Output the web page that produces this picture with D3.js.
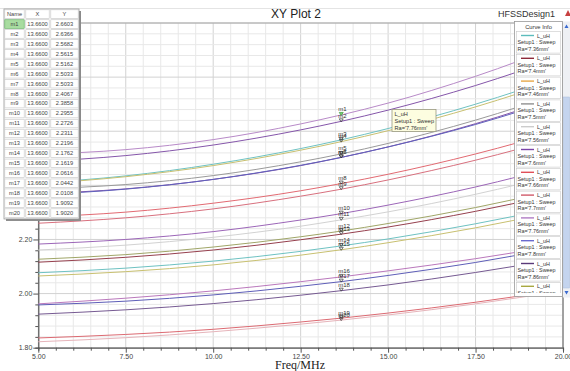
<!DOCTYPE html>
<html>
<head>
<meta charset="utf-8">
<script src="https://cdn.jsdelivr.net/npm/d3@7"></script>
<style>
body { margin: 0; background: #fff; }
svg { display: block; font-family: "Liberation Sans", Arial, sans-serif; }
</style>
</head>
<body>
<div></div>
<script>
var width = 570;
var height = 371;

// frequencies (MHz) at which the curves were read; 13.66 is the marker column
var freqs = [5, 7.5, 10, 12.5, 13.66, 15, 17.5, 20];

// L_uH, one row per marker curve m1..m20
var curveL = [
    [2.515, 2.532, 2.569, 2.627, 2.6603, 2.704, 2.803, 2.921],
    [2.488, 2.510, 2.549, 2.605, 2.6366, 2.678, 2.769, 2.877],
    [2.409, 2.435, 2.478, 2.536, 2.5682, 2.610, 2.700, 2.805],
    [2.406, 2.432, 2.473, 2.530, 2.5615, 2.602, 2.690, 2.794],
    [2.387, 2.403, 2.436, 2.487, 2.5162, 2.555, 2.641, 2.744],
    [2.369, 2.387, 2.422, 2.473, 2.5033, 2.542, 2.628, 2.731],
    [2.366, 2.386, 2.422, 2.474, 2.5033, 2.542, 2.625, 2.725],
    [2.283, 2.301, 2.334, 2.380, 2.4067, 2.441, 2.516, 2.605],
    [2.260, 2.280, 2.313, 2.360, 2.3858, 2.420, 2.493, 2.579],
    [2.183, 2.200, 2.229, 2.272, 2.2955, 2.327, 2.394, 2.475],
    [2.161, 2.179, 2.208, 2.249, 2.2726, 2.302, 2.367, 2.444],
    [2.127, 2.144, 2.172, 2.210, 2.2311, 2.259, 2.318, 2.388],
    [2.116, 2.134, 2.161, 2.199, 2.2196, 2.246, 2.304, 2.372],
    [2.077, 2.094, 2.120, 2.156, 2.1762, 2.202, 2.258, 2.323],
    [2.065, 2.081, 2.106, 2.142, 2.1619, 2.188, 2.243, 2.308],
    [1.962, 1.983, 2.010, 2.044, 2.0616, 2.084, 2.129, 2.181],
    [1.958, 1.972, 1.995, 2.027, 2.0442, 2.067, 2.115, 2.173],
    [1.924, 1.940, 1.963, 1.994, 2.0108, 2.032, 2.078, 2.131],
    [1.836, 1.849, 1.868, 1.895, 1.9092, 1.928, 1.968, 2.015],
    [1.822, 1.837, 1.859, 1.887, 1.9020, 1.921, 1.962, 2.010]
];
var curveColors = ["#b88ac8", "#8556aa", "#6ec2c2", "#c8c070", "#9a9a9a", "#8556aa", "#6060bc",
    "#e26a72", "#d8707e", "#9c66b8", "#d2d2d2", "#a0a668", "#96404e", "#6ec2c2", "#c8c070",
    "#ba78bc", "#5e5eb8", "#765a92", "#dc6a72", "#e6b4ba"];

var markerNames = ["m1", "m2", "m3", "m4", "m5", "m6", "m7", "m8", "m9", "m10",
    "m11", "m12", "m13", "m14", "m15", "m16", "m17", "m18", "m19", "m20"];
var markerX = 13.66;
var markerY = [2.6603, 2.6366, 2.5682, 2.5615, 2.5162, 2.5033, 2.5033, 2.4067, 2.3858, 2.2955,
    2.2726, 2.2311, 2.2196, 2.1762, 2.1619, 2.0616, 2.0442, 2.0108, 1.9092, 1.9020];

var raLabels = ["7.36mm", "7.4mm", "7.46mm", "7.5mm", "7.56mm", "7.6mm",
    "7.66mm", "7.7mm", "7.76mm", "7.8mm", "7.86mm", "7.9mm"];
var legendColors = ["#5cbcbc", "#8e2a3a", "#e8a848", "#909090", "#cccccc", "#7b45a8",
    "#e0505a", "#d05a6a", "#b07cc4", "#6a6ad0", "#5a3a7a", "#a8a840"];

var xTicks = [5, 7.5, 10, 12.5, 15, 17.5, 20];
var yTicks = [1.8, 2.0, 2.2, 2.4, 2.6, 2.8, 3.0];

var svg = d3.select("div")
    .append("svg")
    .attr("width", width)
    .attr("height", height);

var x = d3.scaleLinear().domain([5, 20]).range([38.3, 563]);
var y = d3.scaleLinear().domain([1.8, 3.0]).range([347.7, 23]);

// window frame lines
svg.append("line").attr("x1", 0).attr("x2", width).attr("y1", 8.5).attr("y2", 8.5)
    .attr("stroke", "#e4e4e4");

// grid
var grid = svg.append("g");
grid.selectAll(".gx").data(d3.range(5, 20.01, 0.5)).enter().append("line")
    .attr("x1", d => x(d)).attr("x2", d => x(d))
    .attr("y1", y(3.0)).attr("y2", y(1.8))
    .attr("stroke", d => Math.abs(d / 2.5 - Math.round(d / 2.5)) < 1e-6 ? "#d2d2d2" : "#e8e8e8")
    .attr("stroke-width", 1);
grid.selectAll(".gy").data(d3.range(1.8, 3.001, 0.04)).enter().append("line")
    .attr("x1", x(5)).attr("x2", x(20))
    .attr("y1", d => y(d)).attr("y2", d => y(d))
    .attr("stroke", d => Math.abs(d / 0.2 - Math.round(d / 0.2)) < 1e-6 ? "#d2d2d2" : "#e8e8e8")
    .attr("stroke-width", 1);

// frame
svg.append("line").attr("x1", x(5)).attr("x2", x(20)).attr("y1", y(3)).attr("y2", y(3))
    .attr("stroke", "#a8a8a8");
svg.append("line").attr("x1", x(20)).attr("x2", x(20)).attr("y1", y(3)).attr("y2", y(1.8))
    .attr("stroke", "#8a8a8a").attr("stroke-width", 1.5);

// axes
var xAxis = d3.axisBottom(x).tickValues(d3.range(5, 20.01, 0.5)).tickSize(3)
    .tickFormat(d => xTicks.indexOf(d) >= 0 ? d.toFixed(2) : "");
var gx = svg.append("g").attr("transform", "translate(0," + y(1.8) + ")").call(xAxis);
gx.selectAll(".tick line").attr("y2", d => xTicks.indexOf(d) >= 0 ? 5 : 3).attr("stroke", "#555");
var yAxis = d3.axisLeft(y).tickValues(d3.range(1.8, 3.001, 0.04)).tickSize(3)
    .tickFormat(d => yTicks.some(t => Math.abs(t - d) < 1e-6) ? d.toFixed(2) : "");
var gy = svg.append("g").attr("transform", "translate(" + x(5) + ",0)").call(yAxis);
gy.selectAll(".tick line").attr("x2", d => yTicks.some(t => Math.abs(t - d) < 1e-6) ? -5 : -3)
    .attr("stroke", "#555");
[gx, gy].forEach(function (g) {
    g.select(".domain").attr("stroke", "#555").attr("stroke-width", 1.2);
    g.selectAll("text").attr("font-size", 7).attr("fill", "#444")
        .attr("font-family", "Liberation Sans, Arial, sans-serif");
});
gx.selectAll("text").attr("dy", "0.75em");

// curves
var line = d3.line()
    .x((d, i) => x(freqs[i]))
    .y(d => y(d))
    .curve(d3.curveMonotoneX);
svg.append("g").selectAll("path").data(curveL).enter().append("path")
    .attr("d", line)
    .attr("fill", "none")
    .attr("stroke", (d, i) => curveColors[i])
    .attr("stroke-width", 1);

// markers
var mk = svg.append("g");
markerY.forEach(function (v, i) {
    var px = x(markerX), py = y(v);
    mk.append("path")
        .attr("d", "M" + (px - 2) + "," + (py - 2.5) + "L" + (px + 2) + "," + (py - 2.5) + "L" + px + "," + (py + 0.5) + "Z")
        .attr("fill", i === 0 ? "#7bd07b" : "none")
        .attr("stroke", i === 0 ? "#3a9a3a" : "#333")
        .attr("stroke-width", 0.7);
    mk.append("text").text(markerNames[i])
        .attr("x", px - 3).attr("y", py - 3.5)
        .attr("font-size", 6).attr("fill", "#333");
});

// tooltip box
var tip = svg.append("g").attr("transform", "translate(392,109.5)");
tip.append("rect").attr("width", 44).attr("height", 22)
    .attr("fill", "#fdfde0").attr("stroke", "#9a9a80").attr("stroke-width", 0.8);
["L_uH", "Setup1 : Sweep", "Ra='7.76mm'"].forEach(function (t, i) {
    tip.append("text").text(t).attr("x", 2.5).attr("y", 6.5 + i * 7)
        .attr("font-size", 5.6).attr("fill", "#333");
});

// marker table
var tbl = svg.append("g").attr("transform", "translate(4,9)");
var colX = [0, 21, 46, 75];
var rowH = 9.95;
tbl.append("rect").attr("x", 2).attr("y", 2).attr("width", 75).attr("height", rowH * 21 + 1)
    .attr("fill", "#8a8a8a");
tbl.append("rect").attr("x", 0).attr("y", 0).attr("width", 75).attr("height", rowH * 21 + 1)
    .attr("fill", "#fff").attr("stroke", "#9a9a9a").attr("stroke-width", 0.8);
var header = ["Name", "X", "Y"];
for (var r = 0; r < 21; r++) {
    for (var c = 0; c < 3; c++) {
        var cx0 = colX[c] + 0.8, cy0 = r * rowH + 0.8;
        var isSel = (r === 1 && c === 0);
        tbl.append("rect").attr("x", cx0).attr("y", cy0)
            .attr("width", colX[c + 1] - colX[c] - 1.6).attr("height", rowH - 1.4)
            .attr("fill", isSel ? "#a8dca0" : "#fff")
            .attr("stroke", isSel ? "#58a858" : "#c4c4c4").attr("stroke-width", 0.6);
        var t = r === 0 ? header[c] : (c === 0 ? markerNames[r - 1] : c === 1 ? markerX.toFixed(4) : markerY[r - 1].toFixed(4));
        tbl.append("text").text(t)
            .attr("x", (colX[c] + colX[c + 1]) / 2).attr("y", r * rowH + 6.9)
            .attr("text-anchor", "middle").attr("font-size", 5.7).attr("fill", "#444");
    }
}

// legend panel
var lg = svg.append("g");
lg.append("rect").attr("x", 514.5).attr("y", 21.5).attr("width", 48).attr("height", 275)
    .attr("fill", "#fff").attr("stroke", "#9a9a9a").attr("stroke-width", 0.8);
lg.append("text").text("Curve Info").attr("x", 538.5).attr("y", 29)
    .attr("text-anchor", "middle").attr("font-size", 5.8).attr("fill", "#333");
svg.append("clipPath").attr("id", "lgclip").append("rect")
    .attr("x", 514).attr("y", 31).attr("width", 49).attr("height", 262);
var le = lg.append("g").attr("clip-path", "url(#lgclip)");
raLabels.forEach(function (ra, i) {
    var top = 31.5 + i * 22.8;
    le.append("rect").attr("x", 516.5).attr("y", top).attr("width", 44).attr("height", 21.6)
        .attr("fill", "#fff").attr("stroke", "#c8c8c8").attr("stroke-width", 0.6);
    le.append("line").attr("x1", 521).attr("x2", 534).attr("y1", top + 4).attr("y2", top + 4)
        .attr("stroke", legendColors[i]).attr("stroke-width", 1.4);
    le.append("text").text("L_uH").attr("x", 537).attr("y", top + 6)
        .attr("font-size", 5.4).attr("fill", "#333");
    le.append("text").text("Setup1 : Sweep").attr("x", 517.5).attr("y", top + 12.5)
        .attr("font-size", 5.4).attr("fill", "#333");
    le.append("text").text("Ra='" + ra + "'").attr("x", 517.5).attr("y", top + 19)
        .attr("font-size", 5.4).attr("fill", "#333");
});

// scrollbar
var sb = svg.append("g");
sb.append("rect").attr("x", 563).attr("y", 21.5).attr("width", 7).attr("height", 276)
    .attr("fill", "#eef0f4");
sb.append("rect").attr("x", 563.5).attr("y", 97).attr("width", 6).attr("height", 191)
    .attr("fill", "#c4d4ee").attr("stroke", "#a8bcdc").attr("stroke-width", 0.5);
sb.append("path").attr("d", "M564.5,28L566.5,24.5L568.5,28Z").attr("fill", "#3a6ad0");
sb.append("path").attr("d", "M564.5,291L566.5,294.5L568.5,291Z").attr("fill", "#3a6ad0");

// titles
svg.append("text").text("XY Plot 2").attr("x", 296).attr("y", 18)
    .attr("text-anchor", "middle").attr("font-size", 12).attr("fill", "#222");
svg.append("text").text("HFSSDesign1").attr("x", 555).attr("y", 17)
    .attr("text-anchor", "end").attr("font-size", 9).attr("fill", "#333");
svg.append("path").attr("d", "M565,16L568,10L571,16Z").attr("fill", "#c84040");
svg.append("text").text("Freq/MHz").attr("x", 300).attr("y", 369)
    .attr("text-anchor", "middle").attr("font-size", 12)
    .attr("font-family", "Liberation Serif, Times New Roman, serif").attr("fill", "#222");
</script>
</body>
</html>
